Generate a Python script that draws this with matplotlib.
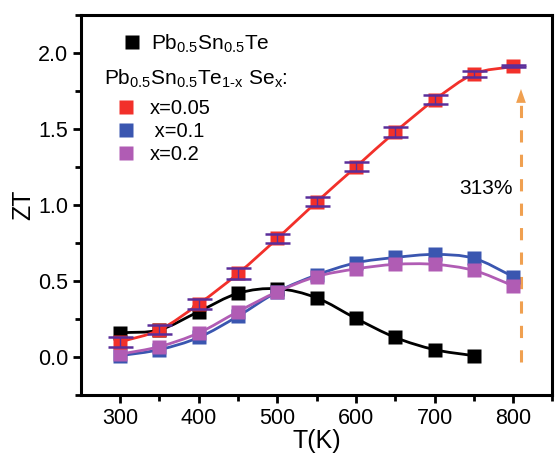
import numpy as np
import matplotlib
matplotlib.use("Agg")
import matplotlib.pyplot as plt
from matplotlib.path import Path
from matplotlib.patches import PathPatch
from matplotlib.lines import Line2D

plt.rcParams['font.family'] = ['Liberation Sans', 'DejaVu Sans']
plt.rcParams['mathtext.fontset'] = 'custom'
plt.rcParams['mathtext.rm'] = 'Liberation Sans'
plt.rcParams['mathtext.it'] = 'Liberation Sans'

# data
T_base = [300, 350, 400, 450, 500, 550, 600, 650, 700, 750]
zt_base = [0.16, 0.18, 0.30, 0.42, 0.45, 0.39, 0.255, 0.13, 0.05, 0.01]

T_se = [300, 350, 400, 450, 500, 550, 600, 650, 700, 750, 800]
zt_005 = [0.10, 0.18, 0.35, 0.55, 0.78, 1.02, 1.25, 1.48, 1.69, 1.86, 1.91]
err_005 = [0.03, 0.03, 0.03, 0.035, 0.03, 0.03, 0.03, 0.035, 0.03, 0.02, 0.006]
zt_01 = [0.01, 0.05, 0.13, 0.27, 0.43, 0.54, 0.62, 0.655, 0.675, 0.65, 0.53]
zt_02 = [0.02, 0.07, 0.16, 0.30, 0.43, 0.53, 0.58, 0.61, 0.61, 0.57, 0.47]

col_black = '#000000'
col_red = '#f2302a'
col_blue = '#3a56b0'
col_purple = '#b05cb4'
col_err = '#5a2e9a'
col_arrow = '#f0a050'


def smooth_path(x, y):
    # Catmull-Rom through the points, expressed as cubic Bezier segments
    x = np.asarray(x, float)
    y = np.asarray(y, float)
    pts = np.column_stack([x, y])
    ext = np.vstack([2 * pts[0] - pts[1], pts, 2 * pts[-1] - pts[-2]])
    verts = [pts[0]]
    codes = [Path.MOVETO]
    for i in range(1, len(ext) - 2):
        p0, p1, p2, p3 = ext[i - 1], ext[i], ext[i + 1], ext[i + 2]
        c1 = p1 + (p2 - p0) / 6.0
        c2 = p2 - (p3 - p1) / 6.0
        verts += [c1, c2, p2]
        codes += [Path.CURVE4] * 3
    return Path(verts, codes)


fig, ax = plt.subplots(figsize=(5.58, 4.57), dpi=100)
fig.subplots_adjust(left=0.145, right=0.99, top=0.968, bottom=0.135)

series = [
    (T_base, zt_base, col_black, 3),
    (T_se, zt_01, col_blue, 4),
    (T_se, zt_02, col_purple, 5),
    (T_se, zt_005, col_red, 6),
]
for xs, ys, c, z in series:
    ax.add_patch(PathPatch(smooth_path(xs, ys), facecolor='none',
                           edgecolor=c, lw=2, zorder=z))
    ax.plot(xs, ys, 's', color=c, ms=10, zorder=z, mec='none')

ax.errorbar(T_se, zt_005, yerr=err_005, fmt='none', ecolor=col_err,
            elinewidth=1.0, capsize=9, capthick=1.8, zorder=7)

# arrow showing the enhancement
ax.plot([810, 810], [-0.03, 1.70], ls=(0, (4, 4)), color=col_arrow, lw=2.2, zorder=2)
ax.annotate('', xy=(810, 1.78), xytext=(810, 1.66),
            arrowprops=dict(arrowstyle='-|>,head_width=0.35,head_length=1.0',
                            color=col_arrow, lw=0))
ax.text(800, 1.11, '313%', fontsize=15, ha='right', va='center')

ax.set_xlim(250, 850)
ax.set_ylim(-0.25, 2.25)
ax.set_xticks([300, 400, 500, 600, 700, 800])
ax.set_xticks([350, 450, 550, 650, 750, 850], minor=True)
ax.set_yticks([0.0, 0.5, 1.0, 1.5, 2.0])
ax.set_yticks([-0.25, 0.25, 0.75, 1.25, 1.75, 2.25], minor=True)
ax.set_yticklabels(['0.0', '0.5', '1.0', '1.5', '2.0'])
ax.tick_params(which='major', direction='out', length=6, width=2, labelsize=15.5,
               top=False, right=False, pad=3)
ax.tick_params(which='minor', direction='out', length=4, width=2,
               top=False, right=False)
for s in ax.spines.values():
    s.set_linewidth(2.2)
ax.set_xlabel('T(K)', fontsize=18, labelpad=0)
ax.set_ylabel('ZT', fontsize=18, labelpad=2)

h_base = Line2D([], [], ls='none', marker='s', ms=10, color=col_black, mec='none')
leg1 = ax.legend([h_base], ['Pb$_{0.5}$Sn$_{0.5}$Te'], loc='upper left',
                 bbox_to_anchor=(0.07, 0.975), frameon=False, fontsize=15,
                 handlelength=0.9, handletextpad=0.5, borderaxespad=0)
ax.add_artist(leg1)
ax.text(0.048, 0.83, 'Pb$_{0.5}$Sn$_{0.5}$Te$_{1\\text{-}x}$ Se$_x$:', transform=ax.transAxes,
        fontsize=15, ha='left', va='center')
hs = [Line2D([], [], ls='none', marker='s', ms=10, color=c, mec='none')
      for c in (col_red, col_blue, col_purple)]
ax.legend(hs, ['x=0.05', ' x=0.1', 'x=0.2'], loc='upper left',
          bbox_to_anchor=(0.06, 0.80), frameon=False, fontsize=14.5,
          handlelength=0.9, handletextpad=0.7, labelspacing=0.2, borderaxespad=0)

fig.savefig('out.png', dpi=100)
